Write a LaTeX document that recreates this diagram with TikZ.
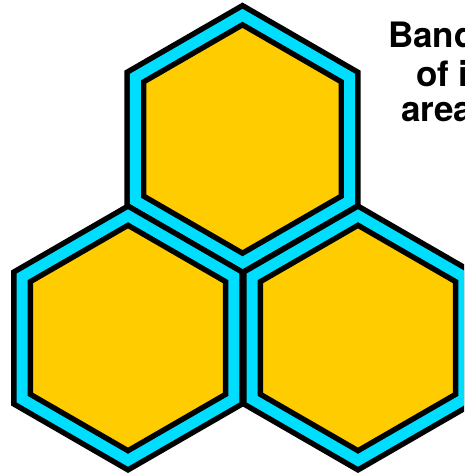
\documentclass[tikz,border=0pt]{standalone}
\usepackage{fontspec}
\newfontfamily\bandfont{TeX Gyre Heros}
\usetikzlibrary{shapes.geometric}
\definecolor{CellClr}{rgb}{1,0.8,0}
\definecolor{BandClr}{rgb}{0,0.87,1}

\begin{document}
\begin{tikzpicture}[x=1pt,y=1pt,
  hexcell/.style={regular polygon,regular polygon sides=6,rotate=30,
    minimum size=#1,inner sep=0pt,outer sep=0pt,fill=CellClr,draw=black,
    line width=5.5pt,double=BandClr,double distance=11pt},
  bandtext/.style={anchor=base west,inner sep=0pt,
    font=\bandfont\bfseries\fontsize{35}{42}\selectfont}]
\useasboundingbox (0,0) rectangle (464,474);
\clip (0,0) rectangle (464,474);

% the three cells
\node[hexcell=247.6pt] (TopCell) at (242.5,335) {};
\node[hexcell=244.6pt] (LeftCell) at (128,136) {};
\node[hexcell=244.6pt] (RightCell) at (358,136) {};

% label, cut at the right edge
\node[bandtext] (BandLine) at (388,426) {Band};
\node[bandtext] (OfLine) at (416,387) {of i};
\node[bandtext] (AreaLine) at (401,352) {area};

\end{tikzpicture}
\end{document}
